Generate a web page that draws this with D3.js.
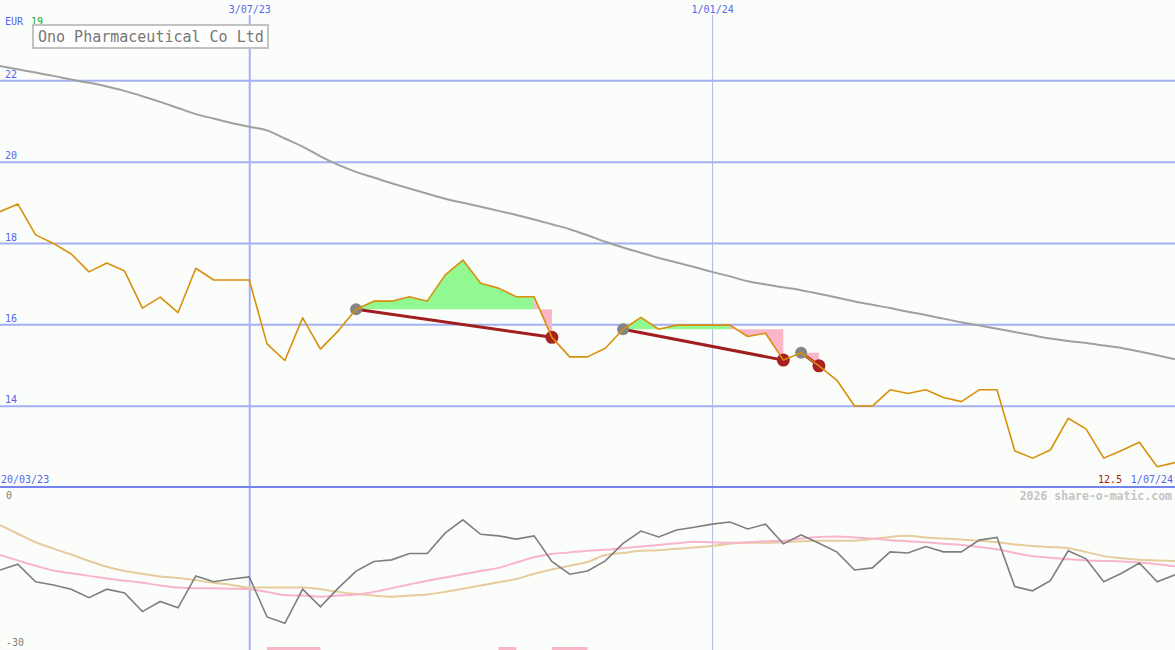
<!DOCTYPE html>
<html><head><meta charset="utf-8">
<script src="https://cdn.jsdelivr.net/npm/d3@7"></script>
<style>html,body{margin:0;padding:0;background:#fbfdfb;}svg{display:block;}</style>
</head><body>
<script>
// ---------- DATA ----------
const dates = ["2023-03-27","2023-04-03","2023-04-10","2023-04-17","2023-04-24","2023-05-01","2023-05-08","2023-05-15","2023-05-22","2023-05-29",
"2023-06-05","2023-06-12","2023-06-19","2023-06-26","2023-07-03","2023-07-10","2023-07-17","2023-07-24","2023-07-31","2023-08-07",
"2023-08-14","2023-08-21","2023-08-28","2023-09-04","2023-09-11","2023-09-18","2023-09-25","2023-10-02","2023-10-09","2023-10-16",
"2023-10-23","2023-10-30","2023-11-06","2023-11-13","2023-11-20","2023-11-27","2023-12-04","2023-12-11","2023-12-18","2023-12-25",
"2024-01-01","2024-01-08","2024-01-15","2024-01-22","2024-01-29","2024-02-05","2024-02-12","2024-02-19","2024-02-26","2024-03-04",
"2024-03-11","2024-03-18","2024-03-25","2024-04-01","2024-04-08","2024-04-15","2024-04-22","2024-04-29","2024-05-06","2024-05-13",
"2024-05-20","2024-05-27","2024-06-03","2024-06-10","2024-06-17","2024-06-24","2024-07-01"];
const price = [18.77,18.96,18.20,17.99,17.73,17.29,17.51,17.31,16.40,16.67,
16.29,17.38,17.09,17.09,17.09,15.52,15.11,16.16,15.39,15.84,
16.37,16.57,16.57,16.68,16.57,17.21,17.58,17.01,16.89,16.68,
16.68,15.68,15.20,15.20,15.41,15.88,16.17,15.88,15.98,15.98,
15.98,15.98,15.70,15.78,15.12,15.30,14.98,14.63,13.99,13.99,
14.39,14.30,14.39,14.20,14.10,14.39,14.39,12.89,12.71,12.91,
13.69,13.43,12.71,12.90,13.10,12.50,12.60];
const movingAvg = [22.35,22.27,22.19,22.11,22.02,21.94,21.85,21.74,21.61,21.47,
21.32,21.17,21.06,20.95,20.86,20.77,20.57,20.37,20.13,19.92,
19.75,19.61,19.47,19.34,19.21,19.09,18.99,18.89,18.79,18.69,
18.58,18.46,18.34,18.19,18.03,17.89,17.76,17.63,17.52,17.41,
17.29,17.18,17.06,16.98,16.91,16.84,16.75,16.66,16.56,16.48,
16.40,16.31,16.23,16.14,16.05,15.97,15.89,15.81,15.73,15.65,
15.59,15.54,15.48,15.42,15.33,15.24,15.14];
const oscGray = [-15.0,-13.9,-17.2,-17.8,-18.6,-20.2,-18.6,-19.3,-22.8,-20.9,
-22.1,-16.1,-17.2,-16.7,-16.3,-23.8,-25.0,-18.6,-21.9,-18.4,
-15.2,-13.4,-13.1,-11.9,-11.9,-8.1,-5.6,-8.3,-8.6,-9.2,
-8.6,-13.4,-15.8,-15.2,-13.3,-10.0,-7.7,-8.8,-7.5,-7.0,
-6.4,-6.0,-7.3,-6.4,-10.1,-8.4,-10.0,-11.6,-15.0,-14.6,
-11.6,-11.8,-10.6,-11.6,-11.6,-9.4,-8.9,-18.1,-18.9,-17.0,
-11.4,-12.9,-17.2,-15.6,-13.7,-17.2,-15.9];
const oscTan = [-6.6,-8.2,-9.8,-11.0,-12.1,-13.3,-14.4,-15.2,-15.7,-16.2,
-16.5,-16.9,-17.4,-17.8,-18.3,-18.3,-18.3,-18.3,-18.6,-19.1,
-19.5,-19.8,-20.0,-19.8,-19.6,-19.1,-18.5,-17.9,-17.3,-16.7,
-15.7,-14.9,-14.2,-13.5,-12.2,-11.8,-11.4,-11.3,-11.0,-10.8,
-10.5,-10.1,-9.9,-9.9,-9.8,-9.6,-9.5,-9.5,-9.5,-9.2,
-8.8,-8.6,-8.9,-9.1,-9.3,-9.5,-9.8,-10.2,-10.5,-10.7,
-10.9,-11.6,-12.4,-12.8,-13.1,-13.2,-13.3];
const oscPink = [-12.2,-13.2,-14.2,-15.1,-15.6,-16.1,-16.6,-17.0,-17.4,-17.9,
-18.3,-18.4,-18.4,-18.5,-18.6,-19.1,-19.7,-19.8,-20.0,-19.8,
-19.6,-19.1,-18.4,-17.7,-17.0,-16.4,-15.8,-15.2,-14.6,-13.6,
-12.6,-12.0,-11.7,-11.4,-11.2,-10.9,-10.6,-10.3,-10.0,-9.7,
-9.8,-9.9,-9.8,-9.6,-9.5,-9.1,-8.8,-8.7,-8.9,-9.1,
-9.4,-9.6,-9.8,-10.1,-10.3,-10.7,-11.1,-11.8,-12.4,-12.7,
-13.0,-13.2,-13.3,-13.4,-13.6,-13.9,-14.3];
const trades = [["2023-08-14","2023-10-30"],["2023-11-27","2024-01-29"],["2024-02-05","2024-02-12"]];
const signalRanges = [["2023-07-10","2023-07-31"],["2023-10-09","2023-10-16"],["2023-10-30","2023-11-13"]];
const priceTicks = [14,16,18,20,22];
const dateTicks = ["2023-07-03","2024-01-01"];
const xDomain = ["2023-03-27","2024-07-01"];
const title = "Ono Pharmaceutical Co Ltd";

// ---------- CHART ----------
const W = 1175, H = 650;
const parse = d3.utcParse("%Y-%m-%d");
const D = dates.map(parse);
const x = d3.scaleUtc().domain(xDomain.map(parse)).range([0, W]);
const y = d3.scaleLinear().domain([12, 24]).range([487, -1]);
const yo = d3.scaleLinear().domain([-30, 0]).range([650, 490]);
const mono = "'DejaVu Sans Mono', monospace";

const svg = d3.select("body").append("svg").attr("width", W).attr("height", H)
  .style("background", "#fbfdfb");

// horizontal gridlines (price)
const gy = svg.append("g")
  .call(d3.axisRight(y).tickValues(priceTicks).tickSize(W).tickFormat(d3.format("d")));
gy.select(".domain").remove();
gy.selectAll("line").attr("stroke", "#a3b1f2").attr("stroke-width", 2);
gy.selectAll("text").attr("x", 5).attr("dy", -3).attr("text-anchor", "start")
  .attr("fill", "#5566ee").style("font-family", mono).style("font-size", "10px");

// vertical date lines
const gx = svg.append("g")
  .call(d3.axisBottom(x).tickValues(dateTicks.map(parse)).tickSize(H)
    .tickFormat(d3.utcFormat("%-d/%m/%y")));
gx.select(".domain").remove();
gx.selectAll("line").attr("y1", 15)
  .attr("stroke", (d, i) => i === 0 ? "#a3b1f2" : "#b2b8dc")
  .attr("stroke-width", (d, i) => i === 0 ? 2 : 1);
gx.selectAll("text").attr("y", 13).attr("dy", 0).attr("fill", "#5566ee")
  .style("font-family", mono).style("font-size", "10px");

// bottom border of price panel
svg.append("line").attr("x1", 0).attr("x2", W).attr("y1", y(12)).attr("y2", y(12))
  .attr("stroke", "#7585f0").attr("stroke-width", 2);

// moving average
svg.append("path").datum(movingAvg)
  .attr("fill", "none").attr("stroke", "#a0a0a0").attr("stroke-width", 2)
  .attr("d", d3.line().x((d, i) => x(D[i])).y(d => y(d)).curve(d3.curveMonotoneX));

// trade fills
const idx = s => dates.indexOf(s);
trades.forEach(([e, s]) => {
  const a = idx(e), b = idx(s), base = price[a];
  let k = a;
  while (k < b) {
    const up = price[k + 1] >= base;
    let m = k;
    while (m < b && (price[m + 1] >= base) === up) m++;
    const seg = d3.range(k, m + 1);
    svg.append("path").datum(seg)
      .attr("fill", up ? "#92f892" : "#f9b6c9")
      .attr("d", d3.area().x(i => x(D[i])).y0(y(base)).y1(i => y(price[i])));
    k = m;
  }
});
// trade lines & dots
trades.forEach(([e, s]) => {
  const a = idx(e), b = idx(s);
  svg.append("line").attr("x1", x(D[a])).attr("y1", y(price[a]))
    .attr("x2", x(D[b])).attr("y2", y(price[b]))
    .attr("stroke", "#a01e1e").attr("stroke-width", 3);
});
trades.forEach(([e, s]) => {
  const a = idx(e), b = idx(s);
  svg.append("circle").attr("cx", x(D[a])).attr("cy", y(price[a])).attr("r", 6).attr("fill", "#858585");
  svg.append("circle").attr("cx", x(D[b])).attr("cy", y(price[b])).attr("r", 6.5).attr("fill", "#a82020");
});

// price line
svg.append("path").datum(price)
  .attr("fill", "none").attr("stroke", "#d8900a").attr("stroke-width", 1.6)
  .attr("stroke-linejoin", "round")
  .attr("d", d3.line().x((d, i) => x(D[i])).y(d => y(d)));

// lower panel lines
const lo = d3.line().x((d, i) => x(D[i])).y(d => yo(d));
svg.append("path").datum(oscTan).attr("fill", "none").attr("stroke", "#e6cc9c").attr("stroke-width", 2).attr("d", lo.curve(d3.curveMonotoneX));
svg.append("path").datum(oscPink).attr("fill", "none").attr("stroke", "#f8b4cc").attr("stroke-width", 2).attr("d", lo.curve(d3.curveMonotoneX));
svg.append("path").datum(oscGray).attr("fill", "none").attr("stroke", "#7e7e7e").attr("stroke-width", 1.6).attr("d", lo.curve(d3.curveLinear));

// signal bars
svg.selectAll(".sig").data(signalRanges).join("rect")
  .attr("x", d => x(parse(d[0]))).attr("width", d => x(parse(d[1])) - x(parse(d[0])))
  .attr("y", 647).attr("height", 3).attr("fill", "#f9b6c9");

// texts
const txt = (t, xx, yy, col, opts = {}) => svg.append("text").text(t).attr("x", xx).attr("y", yy)
  .attr("fill", col).style("font-family", mono).style("font-size", (opts.size || 10) + "px")
  .style("font-weight", opts.bold ? "bold" : "normal").attr("text-anchor", opts.anchor || "start");

txt("EUR", 5, 24.5, "#5566ee");
txt("19", 31, 24.5, "#22aa22");
svg.append("rect").attr("x", 33).attr("y", 25).attr("width", 235).attr("height", 23)
  .attr("fill", "#fdfefd").attr("stroke", "#c2c2c2").attr("stroke-width", 2);
txt(title, 38, 41.5, "#777777", { size: 15 });

txt("20/03/23", 1, 483, "#5566ee");
txt("1/07/24", 1173, 483, "#5566ee", { anchor: "end" });
txt("12.5", 1122, 483, "#a01e1e", { anchor: "end" });
txt("2026 share-o-matic.com", 1172, 500, "#c4c4c4", { anchor: "end", size: 11.5, bold: true });
txt("0", 6, 499, "#808080");
txt("-30", 6, 646, "#808080");
</script>
</body></html>
